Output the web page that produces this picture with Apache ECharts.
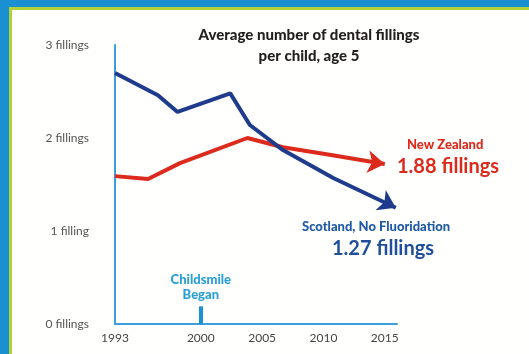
<!DOCTYPE html>
<html>
<head>
<meta charset="utf-8">
<script src="https://cdn.jsdelivr.net/npm/echarts@6/dist/echarts.min.js"></script>
<style>
  html, body { margin: 0; padding: 0; background: #fffffd; }
  #chart { width: 529px; height: 354px; }
</style>
</head>
<body>
<div id="chart"></div>
<script>
// values
var scotYears = [1993, 1996.5, 1998.1, 2002.4, 2004.0, 2006.7, 2010.8, 2015.9];
var scotValues = [2.70, 2.46, 2.28, 2.48, 2.14, 1.87, 1.57, 1.25];
var nzYears = [1993, 1995.7, 1998.3, 2003.8, 2006.7, 2010.5, 2015.0];
var nzValues = [1.59, 1.56, 1.73, 2.00, 1.90, 1.82, 1.72];
var xTicks = [1993, 2000, 2005, 2010, 2015];
var yLabels = ['0 fillings', '1 filling', '2 fillings', '3 fillings'];
var childsmileYear = 2000;

var FONT = 'Lato, "Open Sans", sans-serif';
var BLUE = '#1f3c8c';
var RED = '#dc2a1c';
var AXIS = '#3a9fdc';

function buildData(xs, ys, rotate, color) {
    var out = xs.map(function (x, i) { return [x, ys[i]]; });
    var last = out.length - 1;
    out[last] = {
        value: out[last],
        symbol: 'arrow',
        symbolSize: [17, 17],
        symbolRotate: rotate,
        itemStyle: { color: color }
    };
    return out;
}

var chart = echarts.init(document.getElementById('chart'));

var option = {
    animation: false,
    backgroundColor: '#fffffd',
    textStyle: { fontFamily: FONT },
    title: {
        text: 'Average number of dental fillings\nper child, age 5',
        left: 304,
        top: 20,
        textAlign: 'center',
        textStyle: {
            fontFamily: FONT,
            fontSize: 15,
            fontWeight: 900,
            color: '#231f20',
            lineHeight: 21
        }
    },
    grid: { left: 115, right: 132, top: 45, bottom: 30 },
    xAxis: {
        type: 'value',
        min: 1993,
        max: 2016,
        axisLine: { show: true, lineStyle: { color: AXIS, width: 2 } },
        axisTick: { show: false },
        splitLine: { show: false },
        axisLabel: {
            customValues: xTicks,
            formatter: function (v) { return String(v); },
            color: '#444',
            fontSize: 12,
            fontFamily: FONT,
            margin: 8
        }
    },
    yAxis: {
        type: 'value',
        min: 0,
        max: 3,
        interval: 1,
        axisLine: { show: true, lineStyle: { color: AXIS, width: 2 } },
        axisTick: { show: false },
        splitLine: { show: false },
        axisLabel: {
            formatter: function (v) { return yLabels[v]; },
            color: '#555',
            fontSize: 12,
            fontFamily: FONT,
            margin: 26
        }
    },
    series: [
        {
            name: 'New Zealand',
            type: 'line',
            symbol: 'none',
            lineStyle: { color: RED, width: 4 },
            itemStyle: { color: RED },
            data: buildData(nzYears, nzValues, -98, RED),
            z: 3
        },
        {
            name: 'Scotland, No Fluoridation',
            type: 'line',
            symbol: 'none',
            lineStyle: { color: BLUE, width: 4 },
            itemStyle: { color: BLUE },
            data: buildData(scotYears, scotValues, -117, BLUE),
            z: 4,
            markLine: {
                silent: true,
                symbol: 'none',
                lineStyle: { color: '#1e90d6', width: 4, type: 'solid' },
                label: {
                    show: true,
                    position: 'end',
                    formatter: 'Childsmile\nBegan',
                    color: '#2a9fd8',
                    fontFamily: FONT,
                    fontWeight: 900,
                    fontSize: 13,
                    lineHeight: 15,
                    distance: 4
                },
                data: [[
                    { coord: [childsmileYear, 0] },
                    { coord: [childsmileYear, 0.19] }
                ]]
            }
        }
    ],
    graphic: [
        // frame
        { type: 'rect', shape: { x: 0, y: 0, width: 529, height: 7 }, style: { fill: '#1a8fd2' } },
        { type: 'rect', shape: { x: 0, y: 7, width: 529, height: 3 }, style: { fill: '#b2d235' } },
        { type: 'rect', shape: { x: 0, y: 0, width: 9, height: 354 }, style: { fill: '#1a8fd2' } },
        { type: 'rect', shape: { x: 9, y: 7, width: 3, height: 347 }, style: { fill: '#b2d235' } },
        // annotations
        { type: 'text', left: 407, top: 138, style: { text: 'New Zealand', fill: RED, font: '900 13px ' + FONT } },
        { type: 'text', left: 397, top: 157, style: { text: '1.88 fillings', fill: RED, font: 'bold 20px ' + FONT } },
        { type: 'text', left: 302, top: 220, style: { text: 'Scotland, No Fluoridation', fill: '#1f5aa6', font: '900 13px ' + FONT } },
        { type: 'text', left: 332, top: 239, style: { text: '1.27 fillings', fill: '#1f4f9a', font: 'bold 20px ' + FONT } }
    ]
};

chart.setOption(option);
</script>
</body>
</html>
